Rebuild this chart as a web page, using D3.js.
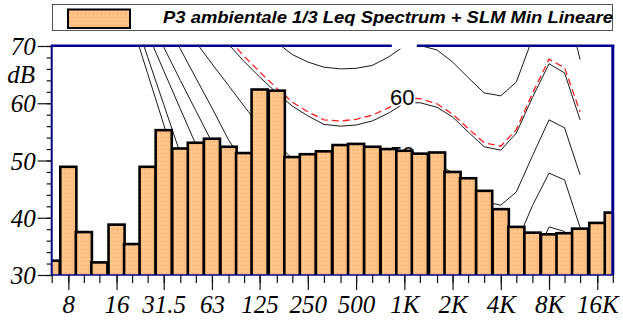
<!DOCTYPE html>
<html>
<head>
<meta charset="utf-8">
<script src="https://cdn.jsdelivr.net/npm/d3@7/dist/d3.min.js"></script>
<style>
  html, body { margin: 0; padding: 0; background: #fff; }
  svg { display: block; }
</style>
</head>
<body>
<svg id="chart" width="623" height="320"></svg>
<script>
// One-third-octave bands (nominal centre frequencies, Hz)
const bandFreqs = [6.3, 8, 10, 12.5, 16, 20, 25, 31.5, 40, 50, 63, 80, 100, 125, 160, 200,
  250, 315, 400, 500, 630, 800, 1000, 1250, 1600, 2000, 2500, 3150, 4000, 5000, 6300,
  8000, 10000, 12500, 16000, 20000];

// Leq spectrum, dB
const leqLevels = [32.5, 48.9, 37.5, 32.2, 38.8, 35.4, 48.9, 55.3, 52.1, 53.1, 53.8, 52.4,
  51.3, 62.4, 62.2, 50.6, 51.1, 51.6, 52.7, 52.9, 52.4, 52.0, 51.7, 51.2, 51.4, 48.0,
  46.9, 44.7, 41.5, 38.4, 37.4, 37.1, 37.3, 38.1, 39.1, 40.9];

// Labelled bands on the frequency axis
const freqTickValues = [8, 16, 31.5, 63, 125, 250, 500, 1000, 2000, 4000, 8000, 16000];
const freqTickLabels = ["8", "16", "31.5", "63", "125", "250", "500", "1K", "2K", "4K", "8K", "16K"];

// Level axis
const levelDomain = [30, 70];
const levelMajorTicks = [30, 40, 50, 60, 70];
const levelMinorTicks = d3.range(30, 71, 2);

// Equal-loudness contours (dB at each frequency)
const contourFreqs = [20, 25, 31.5, 40, 50, 63, 80, 100, 125, 160, 200, 250, 315, 400, 500,
  630, 800, 1000, 1250, 1600, 2000, 2500, 3150, 4000, 5000, 6300, 8000, 10000, 12500];
const phon0  = [73.8, 65.2, 56.3, 47.0, 41.0, 36.0, 31.0, 27.0, 23.0, 19.0, 16.0, 13.0, 11.0, 9.0, 7.0,
  5.0, 4.0, 3.0, 3.5, 3.0, 1.0, -2.0, -4.5, -5.0, -2.5, 3.5, 10.0, 10.0, 2.0];
const phon10 = [76.1, 68.1, 59.8, 51.2, 44.0, 38.0, 32.5, 28.0, 24.5, 21.5, 19.0, 17.0, 15.0, 13.5, 12.5,
  11.5, 11.0, 10.0, 11.0, 10.5, 8.5, 5.5, 3.0, 2.5, 5.0, 11.0, 18.0, 18.0, 10.0];
const phon20 = [78.4, 72.2, 65.7, 59.0, 52.8, 47.0, 42.0, 37.5, 34.0, 31.0, 28.5, 26.5, 25.0, 23.5, 22.5,
  21.5, 21.0, 20.0, 21.0, 20.5, 18.5, 15.5, 13.0, 12.5, 15.0, 21.5, 28.3, 28.0, 19.5];
const phon30 = [80.6, 75.3, 69.8, 64.0, 58.7, 53.2, 48.5, 44.5, 41.0, 38.0, 36.0, 34.0, 32.5, 31.5, 30.5,
  30.0, 30.0, 30.0, 31.0, 30.5, 28.5, 25.0, 22.5, 22.0, 25.5, 32.0, 38.4, 37.6, 29.0];
const phon40 = [85.0, 80.0, 74.7, 69.5, 64.4, 59.2, 53.6, 49.5, 47.0, 45.0, 43.0, 41.5, 40.5, 39.5, 39.0,
  39.0, 39.3, 40.0, 40.6, 40.0, 38.0, 35.3, 33.0, 32.5, 35.5, 42.1, 47.8, 46.6, 38.3];
const phon50 = [88.0, 83.0, 78.5, 74.3, 70.7, 66.9, 63.1, 59.5, 56.0, 53.0, 50.3, 49.5, 49.0, 48.8, 48.7,
  48.9, 49.3, 50.0, 50.2, 49.5, 47.8, 45.2, 42.8, 42.2, 44.5, 50.8, 57.1, 55.7, 47.5];
const phon60 = [100.0, 95.0, 90.0, 85.0, 80.5, 76.0, 70.3, 67.3, 64.6, 61.8, 59.5, 57.8, 56.3, 56.0, 56.2,
  56.9, 58.3, 60.0, 60.1, 59.3, 57.6, 55.0, 52.4, 51.8, 54.8, 61.0, 66.9, 65.3, 57.1];
const phon70 = [110.0, 105.0, 100.0, 95.0, 90.0, 85.5, 81.0, 77.0, 73.5, 70.6, 68.5, 67.2, 66.3, 66.0, 66.1,
  66.6, 68.1, 70.0, 70.1, 69.3, 67.2, 64.5, 61.8, 61.3, 63.7, 71.3, 78.0, 79.0, 67.6];
// SLM minimum curve (drawn dashed)
const slmMin = [101.0, 96.0, 91.0, 86.0, 81.5, 77.0, 71.2, 68.2, 65.5, 62.6, 60.2, 58.5, 57.1, 56.9, 57.2,
  57.9, 59.2, 60.9, 60.8, 59.9, 58.1, 55.6, 53.1, 52.5, 55.4, 61.7, 67.7, 66.2, 58.5];

const contours = [
  { phon: 0, values: phon0 }, { phon: 10, values: phon10 }, { phon: 20, values: phon20 },
  { phon: 30, values: phon30 }, { phon: 40, values: phon40 }, { phon: 50, values: phon50 },
  { phon: 60, values: phon60 }, { phon: 70, values: phon70 }
];
const labelledPhons = [70, 60, 50];

const legendText = "P3 ambientale 1/3 Leq Spectrum + SLM Min Lineare";

// ---- layout ----
const plot = { left: 51.7, right: 612.8, top: 46, bottom: 275 };
const svg = d3.select("#chart");

const x = d3.scaleLog().domain([bandFreqs[0], bandFreqs[bandFreqs.length - 1]])
  .range([plot.left, plot.right]);
const y = d3.scaleLinear().domain(levelDomain).range([plot.bottom, plot.top]);
const third = Math.pow(2, 1 / 6);

const defs = svg.append("defs");
// dotted orange fill
const pat = defs.append("pattern").attr("id", "dots").attr("patternUnits", "userSpaceOnUse")
  .attr("width", 4).attr("height", 4);
pat.append("rect").attr("width", 4).attr("height", 4).attr("fill", "#FFC184");
pat.append("rect").attr("x", 1).attr("y", 1).attr("width", 1).attr("height", 1).attr("fill", "#F4A862");
pat.append("rect").attr("x", 3).attr("y", 3).attr("width", 1).attr("height", 1).attr("fill", "#FFD6A8");

defs.append("clipPath").attr("id", "plotClip").append("rect")
  .attr("x", plot.left).attr("y", plot.top).attr("width", plot.right - plot.left)
  .attr("height", plot.bottom - plot.top);
defs.append("clipPath").attr("id", "textClip").append("rect")
  .attr("x", plot.left).attr("y", plot.top + 1.5).attr("width", plot.right - plot.left)
  .attr("height", plot.bottom - plot.top);
defs.append("clipPath").attr("id", "frameClip").append("rect")
  .attr("x", plot.left).attr("y", plot.top - 2.5).attr("width", plot.right - plot.left)
  .attr("height", plot.bottom - plot.top + 2.5);

// ---- legend ----
const legend = svg.append("g");
legend.append("rect").attr("x", 52.5).attr("y", 4.5).attr("width", 560).attr("height", 26)
  .attr("fill", "#fff").attr("stroke", "#555").attr("stroke-width", 1);
legend.append("rect").attr("x", 68).attr("y", 9.5).attr("width", 62).attr("height", 18.5)
  .attr("fill", "url(#dots)").attr("stroke", "#000").attr("stroke-width", 2);
legend.append("text").attr("x", 163).attr("y", 22.5)
  .attr("font-family", "'Liberation Sans', Arial, sans-serif")
  .attr("font-weight", "bold").attr("font-style", "italic").attr("font-size", 17)
  .attr("textLength", 450).attr("lengthAdjust", "spacingAndGlyphs")
  .attr("fill", "#000").text(legendText);

// ---- contours ----
const line = d3.line().x(d => x(d[0])).y(d => y(d[1]));
const cg = svg.append("g").attr("clip-path", "url(#plotClip)");
cg.selectAll("path.contour").data(contours).join("path")
  .attr("class", "contour")
  .attr("d", c => line(contourFreqs.map((f, i) => [f, c.values[i]])))
  .attr("fill", "none").attr("stroke", "#1a1a1a").attr("stroke-width", 1);
cg.append("path")
  .attr("d", line(contourFreqs.map((f, i) => [f, slmMin[i]])))
  .attr("fill", "none").attr("stroke", "#FF1E1E").attr("stroke-width", 1.3)
  .attr("stroke-dasharray", "7,4");

// contour labels at 1 kHz
const labelBg = svg.append("g").attr("clip-path", "url(#frameClip)");
const labelTx = svg.append("g").attr("clip-path", "url(#textClip)");
labelledPhons.forEach(p => {
  const cx = x(1000) - 2, cy = y(p) - 6.5;
  labelBg.append("rect").attr("x", cx - 10.5).attr("y", cy - 9).attr("width", 23.5).attr("height", 18)
    .attr("fill", "#fff");
  labelTx.append("text").attr("x", cx).attr("y", cy).attr("dy", "0.36em")
    .attr("text-anchor", "middle").attr("font-family", "'Liberation Sans', Arial, sans-serif")
    .attr("font-size", 22).attr("fill", "#000").text(p);
});

// ---- bars ----
svg.append("g").attr("clip-path", "url(#plotClip)")
  .selectAll("rect").data(bandFreqs.map((f, i) => ({ f, v: leqLevels[i] }))).join("rect")
  .attr("x", d => x(d.f / third))
  .attr("width", d => x(d.f * third) - x(d.f / third))
  .attr("y", d => y(d.v))
  .attr("height", d => y(levelDomain[0]) - y(d.v) + 2)
  .attr("fill", "url(#dots)").attr("stroke", "#000").attr("stroke-width", 2.6);

// ---- axes ----
const serif = "'Liberation Serif', 'Times New Roman', serif";
const yMinor = svg.append("g").attr("transform", `translate(${plot.left},0)`)
  .call(d3.axisLeft(y).tickValues(levelMinorTicks).tickSize(5).tickFormat(""));
const yMajor = svg.append("g").attr("transform", `translate(${plot.left},0)`)
  .call(d3.axisLeft(y).tickValues(levelMajorTicks).tickSize(14).tickPadding(2));
[yMinor, yMajor].forEach(g => {
  g.select(".domain").remove();
  g.selectAll("line").attr("stroke", "#111").attr("stroke-width", 1.2);
});
yMajor.selectAll("text").attr("font-family", serif).attr("font-style", "italic")
  .attr("font-size", 25).attr("fill", "#000").attr("dy", "0.34em").attr("x", -16);
svg.append("text").attr("x", 35).attr("y", y(65)).attr("dy", "0.34em").attr("text-anchor", "end")
  .attr("font-family", serif).attr("font-style", "italic").attr("font-size", 25).text("dB");

const xMinor = svg.append("g").attr("transform", `translate(0,${plot.bottom})`)
  .call(d3.axisBottom(x).tickValues(bandFreqs).tickSize(8).tickFormat(""));
const xMajor = svg.append("g").attr("transform", `translate(0,${plot.bottom})`)
  .call(d3.axisBottom(x).tickValues(freqTickValues).tickSize(15)
    .tickFormat((d, i) => freqTickLabels[i]));
[xMinor, xMajor].forEach(g => {
  g.select(".domain").remove();
  g.selectAll("line").attr("stroke", "#111").attr("stroke-width", 1.2);
});
xMajor.selectAll("text").attr("font-family", serif).attr("font-style", "italic")
  .attr("font-size", 25).attr("fill", "#000").attr("y", 38).attr("dy", 0);

// ---- frame ----
const frame = svg.append("g").attr("stroke", "#00008B").attr("fill", "none");
frame.append("line").attr("x1", plot.left).attr("x2", plot.left).attr("y1", plot.top).attr("y2", plot.bottom).attr("stroke-width", 2);
frame.append("line").attr("x1", plot.left - 1).attr("x2", plot.right + 1.5).attr("y1", plot.top - 0.3).attr("y2", plot.top - 0.3).attr("stroke-width", 2.4);
frame.append("line").attr("x1", plot.right).attr("x2", plot.right).attr("y1", plot.top).attr("y2", plot.bottom).attr("stroke-width", 3);
frame.append("line").attr("x1", plot.left).attr("x2", plot.right).attr("y1", plot.bottom).attr("y2", plot.bottom).attr("stroke-width", 1.3);

// the 70 label backdrop breaks the top border
svg.append("rect").attr("x", x(1000) - 12.5).attr("y", plot.top - 2.5).attr("width", 25)
  .attr("height", y(70) - 6.5 + 9 - (plot.top - 2.5)).attr("fill", "#fff");
</script>
</body>
</html>
